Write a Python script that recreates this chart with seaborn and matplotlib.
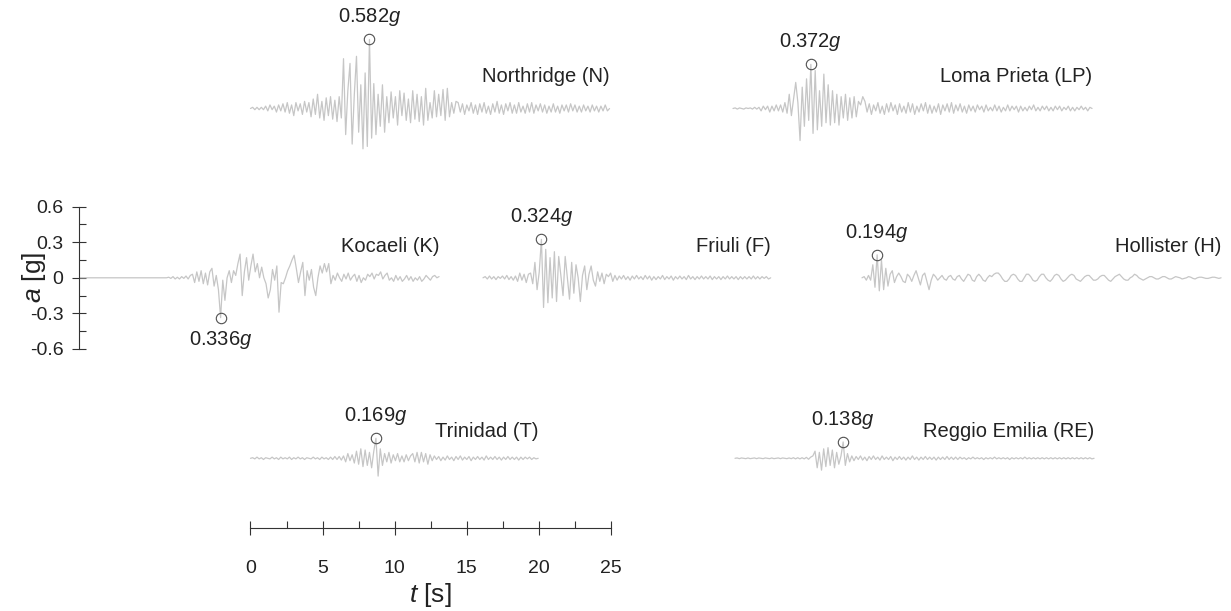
import numpy as np
import pandas as pd
import matplotlib
matplotlib.use("Agg")
import matplotlib.pyplot as plt
import seaborn as sns
from matplotlib.ticker import FixedLocator

# ---------------- data (accelerations in g, sampled every DT seconds) ----------------
DT = 0.15

northridge = [
    0.0, 0.01, -0.01, 0.01, -0.01, 0.01, -0.01, 0.02,
    -0.02, 0.03, -0.01, 0.02, -0.03, 0.03, -0.02, 0.04, -0.03,
    0.05, -0.04, 0.03, -0.06, 0.05, -0.02, 0.04, -0.05, 0.06, -0.03, 0.05, -0.07,
    0.08, -0.05, 0.12, -0.08, 0.06, -0.10, 0.09, -0.06, 0.10, -0.09, 0.07, -0.11, 0.10,
    -0.08, 0.42, -0.22, 0.15, 0.38, -0.30, 0.12, 0.44, -0.20, 0.20, -0.34, 0.30, -0.32,
    0.582, -0.25, 0.21, -0.22, 0.12, -0.15, 0.20, -0.20, 0.10,
    -0.12, 0.14, -0.08, 0.10, -0.14, 0.15, -0.06, 0.13, -0.10, 0.08, -0.12, 0.15, -0.09,
    0.12, -0.11, 0.10, -0.14,
    0.17, -0.10, 0.05, -0.08, 0.15, -0.07, 0.12, -0.06, 0.16, -0.10, 0.17, -0.07, 0.05, -0.04, 0.06,
    0.05, -0.03, 0.04, -0.05, 0.03, -0.02, 0.05, -0.04, 0.03, -0.05,
    0.04, -0.03, 0.05, -0.04, 0.02, -0.05, 0.04, -0.03, 0.06, -0.04,
    0.03, -0.05, 0.04, -0.02, 0.05, -0.04, 0.03, -0.04, 0.05, -0.03,
    0.02, -0.04, 0.04, -0.03, 0.05, -0.04, 0.03, -0.02, 0.04, -0.03,
    0.03, -0.04, 0.02, -0.03, 0.04, -0.03, 0.02, -0.04, 0.03, -0.02,
    0.03, -0.03, 0.04, -0.02, 0.03, -0.03, 0.02, -0.03, 0.03, -0.02,
    0.02, -0.03, 0.03, -0.02, 0.02, -0.03, 0.02, -0.02, 0.03, -0.02, 0.0,
]

loma_prieta = [
    0.0, 0.005, -0.005, 0.005, 0.0, -0.005, 0.005, 0.0, 0.005, -0.005, 0.01, -0.005,
    0.01, -0.02, 0.02, -0.01, 0.02, -0.03, 0.02, -0.02, 0.03, -0.02, 0.03, -0.03,
    0.05, -0.04, 0.12, -0.06, 0.08,
    0.22, 0.05, -0.27, 0.18, -0.15, 0.25, -0.10, 0.372, -0.21, 0.32, -0.18, 0.15,
    -0.15, 0.29, -0.12, 0.20, -0.14, 0.15, -0.12, 0.12, -0.14, 0.10, -0.08, 0.12,
    -0.10, 0.09, -0.08, 0.10, -0.07, 0.06, 0.03, 0.10, 0.06, -0.03,
    0.04, -0.05, 0.03, -0.02, 0.05, -0.04, 0.02, -0.05, 0.04, -0.03,
    0.05, -0.02, 0.03, -0.05, 0.04, -0.03, 0.02, -0.04, 0.05, -0.03,
    0.04, -0.05, 0.02, -0.03, 0.04, -0.02, 0.05, -0.04, 0.03, -0.04,
    0.02, -0.03, 0.04, -0.05, 0.03, -0.02, 0.04, -0.03, 0.05, -0.04,
    0.03, -0.02, 0.04, -0.03, 0.02, -0.04, 0.03, -0.02,
    0.02, -0.03, 0.03, -0.01, 0.02, -0.03, 0.03, -0.02, 0.01, -0.02,
    0.03, -0.02, 0.02, -0.03, 0.01, -0.02, 0.03, -0.02, 0.02, -0.01,
    0.02, -0.03, 0.02, -0.02, 0.01, -0.02, 0.02, -0.01, 0.03, -0.02,
    0.01, -0.02, 0.02, -0.01, 0.02, -0.02, 0.01, -0.02, 0.02, -0.01,
    0.02, -0.02, 0.01, -0.01, 0.02, -0.02, 0.01, -0.02, 0.01, -0.01,
    0.02, -0.01, 0.01, -0.02, 0.01, 0.0,
]

kocaeli = [0.0] * 41 + [
    0.005, -0.005, 0.01, -0.01, 0.005, -0.01, 0.01, -0.005, 0.015, -0.01, 0.02,
    0.03, -0.04, 0.05, -0.03, 0.06, -0.05, 0.04, -0.06, 0.05, 0.08, -0.07, 0.02,
    -0.10, -0.336, -0.02, -0.19, 0.0, 0.06, -0.04, 0.06, 0.02, 0.12, 0.20, -0.15,
    0.05, 0.17, -0.02, 0.10, 0.20, 0.05, 0.12, 0.0,
    0.09, 0.0, -0.05, -0.17, -0.10, 0.07, -0.02, 0.10, -0.29, -0.04, -0.05, 0.0,
    0.06, 0.10, 0.15, 0.19, 0.08, -0.04, 0.05, 0.13, -0.15, 0.06, -0.02, 0.07,
    -0.08, -0.15, 0.0, 0.10, 0.04, 0.12, 0.05, 0.12, -0.05,
    0.02, -0.02, 0.04, 0.0, -0.03, 0.03, -0.01, 0.04, -0.02, 0.01,
    0.03, -0.03, 0.02, -0.04, 0.0, -0.02, 0.03, 0.01, 0.04, -0.01,
    0.03, 0.02, 0.05, -0.01, 0.02, 0.04, -0.02, 0.0, -0.03, 0.02,
    -0.02, 0.01, -0.03, -0.01, 0.02, -0.02, 0.01, -0.03, 0.0, -0.02,
    0.01, -0.03, -0.01, 0.02, 0.0, -0.02, 0.01, 0.02, 0.0, 0.01,
]

friuli = [
    0.0, 0.01, -0.01, 0.015, -0.01, 0.01, -0.015, 0.01, -0.005, 0.015, -0.01, 0.02,
    -0.015, 0.01, -0.02, 0.015,
    -0.03, 0.04, -0.02, 0.03, -0.04, 0.03, 0.04,
    -0.05, 0.13, -0.10, 0.05, 0.324, -0.25, 0.24, -0.21, 0.17, -0.17, 0.22, -0.20,
    0.18, 0.02, -0.15, 0.18, 0.0, -0.18, 0.13, -0.13, 0.11, 0.0, -0.20, 0.02, 0.10,
    -0.10, 0.03, 0.10, -0.02, -0.07,
    0.05, -0.03, 0.04, -0.05, 0.03, 0.01, 0.04, -0.03, 0.02, -0.02,
    0.015, -0.01, 0.02, -0.015, 0.01, -0.02, 0.015, -0.01, 0.02, -0.01,
    0.01, -0.015, 0.02, -0.01, 0.015, -0.02, 0.01, -0.015, 0.01, -0.01,
    0.02, -0.015, 0.01, -0.01, 0.015, -0.02, 0.01, -0.01, 0.015, -0.01,
    0.01, -0.015, 0.02, -0.01, 0.01, -0.015, 0.01, -0.01, 0.015, -0.01,
    0.01, -0.01, 0.015, -0.015, 0.01, -0.01, 0.01, -0.015, 0.01, -0.01,
    0.015, -0.01, 0.01, -0.01, 0.01, -0.015, 0.01, -0.01, 0.01, -0.01,
    0.01, -0.01, 0.015, -0.01, 0.01, -0.01, 0.01, -0.005, 0.01, -0.01, 0.0,
]

hollister = [
    0.0, 0.01, -0.02, 0.02, -0.02, 0.11, -0.08, 0.194, -0.11, 0.15, -0.10, 0.08,
    -0.07, 0.03, 0.06, -0.04, 0.01, 0.04, 0.01, -0.03, -0.04, 0.03, 0.01, -0.03,
    0.02, 0.06, 0.0, -0.06, 0.02, 0.04, -0.03, -0.10, -0.02, 0.03,
    0.01, -0.02, 0.0, 0.02, -0.01, -0.02, 0.01, 0.02, -0.01, -0.02, 0.01, 0.02,
    -0.01, -0.03, 0.0, 0.03, 0.02, -0.02, -0.03, 0.01, 0.03, 0.01, -0.02, -0.03, 0.0, 0.02,
    0.01, 0.03, 0.04, 0.04, 0.02, -0.01, -0.03, -0.03, -0.01, 0.02,
    0.03, 0.02, -0.01, -0.03, -0.03, 0.0, 0.03, 0.03, 0.01, -0.02, -0.03, -0.02, 0.01,
    0.03, 0.03, 0.0, -0.02, -0.03, -0.01, 0.02, 0.03, 0.02, -0.01, -0.03, -0.02, 0.0,
    0.02, 0.03, 0.02, -0.01, -0.02, -0.03, -0.01, 0.01, 0.02, 0.02, 0.0, -0.02, -0.02,
    -0.01, 0.01, 0.02, 0.02, 0.0, -0.02, -0.03, -0.01, 0.01, 0.02, 0.03, 0.01, -0.01,
    -0.02, -0.02, 0.0, 0.01, 0.03,
    0.02, 0.0, -0.01, -0.02, -0.01, 0.0, 0.01, 0.01, 0.0, -0.01, -0.01, 0.0, 0.01,
    0.01, 0.0, -0.01, -0.01, 0.0, 0.01, 0.005, 0.0, -0.01, -0.005, 0.0, 0.01, 0.005,
    -0.005, -0.01, 0.0, 0.005, 0.005, 0.0, -0.005, -0.005, 0.0, 0.005, 0.005, 0.0,
    -0.005, 0.0,
]

trinidad = [
    0.0, 0.005, -0.005, 0.01, -0.005, 0.005, -0.01, 0.005, 0.0, -0.005,
    0.01, -0.005, 0.005, -0.01, 0.01, -0.005, 0.005, -0.005, 0.01, -0.01,
    0.005, -0.005, 0.01, -0.005, 0.005, -0.01, 0.005, 0.0, -0.005, 0.01,
    -0.005, 0.005, -0.01, 0.01, -0.005, 0.005, -0.01, 0.01, -0.01, 0.015,
    -0.01, 0.015, -0.015, 0.02,
    -0.03, 0.04, -0.02, 0.03, -0.04,
    0.06, -0.05, 0.08, -0.07, 0.07, -0.06, 0.05,
    -0.08, 0.06, 0.169, -0.15, 0.08, -0.06,
    0.04, -0.03, 0.05, -0.04, 0.03, -0.02, 0.04, -0.03, 0.02, -0.03, 0.03, -0.02, 0.02,
    0.04, -0.03, 0.05, -0.04, 0.05, -0.03, 0.04, -0.05, 0.03, -0.02,
    0.02, -0.01, 0.015, -0.02, 0.01, -0.015, 0.02, -0.01, 0.01, -0.02,
    0.015, -0.01, 0.02, -0.015, 0.01, -0.01, 0.015, -0.02, 0.01, -0.01,
    0.015, -0.01, 0.01, -0.015, 0.02, -0.01, 0.01, -0.01, 0.015, -0.01,
    0.01, -0.015, 0.01, -0.01, 0.015, -0.01, 0.01, -0.01, 0.01, -0.015,
    0.01, -0.01, 0.01, -0.005, 0.01, -0.01, 0.005, -0.005, 0.0,
]

reggio_emilia = [
    0.0, 0.003, -0.003, 0.003, 0.0, -0.003, 0.003, -0.003, 0.0, 0.003,
    -0.003, 0.003, 0.0, -0.003, 0.003, 0.0, -0.003, 0.003, -0.003, 0.0,
    0.003, -0.003, 0.003, 0.0, -0.003, 0.003, -0.003, 0.005, -0.005, 0.005,
    -0.005, 0.005, -0.005, 0.008, -0.008, 0.01,
    0.02, 0.06, -0.08, 0.05, -0.10, 0.08, -0.07, 0.09, -0.06, 0.07, -0.08, 0.05,
    -0.05, 0.02, 0.138, -0.06, 0.04, -0.03,
    0.02, -0.02, 0.015, -0.01, 0.02, -0.015, 0.01, -0.02, 0.015, -0.01,
    0.02, -0.01, 0.01, -0.015, 0.02, -0.01, 0.01, -0.01, 0.015, -0.02,
    0.01, -0.01, 0.015, -0.01, 0.01, -0.015, 0.01, -0.01, 0.02, -0.01,
    0.01, -0.015, 0.01, -0.01, 0.015, -0.01, 0.01, -0.01, 0.01, -0.015,
    0.01, -0.01, 0.01, -0.01, 0.015, -0.01, 0.01, -0.01, 0.01, -0.01, 0.01,
    -0.005, 0.005, -0.01, 0.005, -0.005, 0.01, -0.005, 0.005, -0.005, 0.005,
    -0.01, 0.005, -0.005, 0.005, -0.005, 0.01, -0.005, 0.005, -0.005, 0.005,
    -0.005, 0.005, -0.01, 0.005, -0.005, 0.005, -0.005, 0.005, -0.005, 0.01,
    -0.005, 0.005, -0.005, 0.005, -0.005, 0.005, -0.005, 0.005, -0.005, 0.005,
    -0.005, 0.005, -0.005, 0.005, -0.005, 0.005, -0.005, 0.005, -0.005, 0.005,
    -0.005, 0.005, -0.005, 0.005, -0.005, 0.005, -0.005, 0.005, -0.005, 0.005,
    -0.005, 0.0,
]

record_names = ["Northridge (N)", "Loma Prieta (LP)", "Kocaeli (K)", "Friuli (F)",
                "Hollister (H)", "Trinidad (T)", "Reggio Emilia (RE)"]
pga_labels = ["0.582", "0.372", "0.336", "0.324", "0.194", "0.169", "0.138"]
records = [northridge, loma_prieta, kocaeli, friuli, hollister, trinidad, reggio_emilia]

y_ticks = [-0.6, -0.3, 0.0, 0.3, 0.6]
y_tick_labels = ["-0.6", "-0.3", "0", "0.3", "0.6"]
y_minor = [-0.45, -0.15, 0.15, 0.45]
x_ticks = [0, 5, 10, 15, 20, 25]
x_tick_labels = ["0", "5", "10", "15", "20", "25"]
x_minor = [2.5, 7.5, 12.5, 17.5, 22.5]

# ---------------- layout (pixel geometry of the reference) ----------------
W, H = 1231, 611
PX_S = 14.42      # pixels per second
PX_G = 118.6      # pixels per g
X0_PX = 250.5     # pixel of t = 0 on the time axis
Y0_PX = 277.8     # pixel of a = 0 on the acceleration axis

def px2x(px):
    return (px - X0_PX) / PX_S

def px2y(py):
    return (Y0_PX - py) / PX_G

# (trace start x pixel, baseline y pixel, name label offset px)
placement = [(250.5, 108.5, 32), (733, 108.5, 32), (80, 277.8, 31), (483, 277.8, 31),
             (862, 277.8, 31), (250.5, 458.3, 27), (735, 458.3, 27)]

sns.set_theme(style="white")
plt.rcParams['font.family'] = ['Liberation Sans', 'DejaVu Sans']
plt.rcParams['mathtext.fontset'] = 'custom'
plt.rcParams['mathtext.rm'] = 'Liberation Sans'
plt.rcParams['mathtext.it'] = 'Liberation Sans:italic'

TEXT = '#222222'
TRACE = '#c6c6c6'

fig = plt.figure(figsize=(W / 100, H / 100), dpi=100)
ax = fig.add_axes([0, 0, 1, 1])
ax.set_xlim(px2x(0), px2x(W))
ax.set_ylim(px2y(H), px2y(0))

for vals, name, pga, (sx, by, noff) in zip(records, record_names, pga_labels, placement):
    a = np.asarray(vals, dtype=float)
    t = np.arange(len(a)) * DT
    xoff, yoff = px2x(sx), px2y(by)
    df = pd.DataFrame({'t': t + xoff, 'a': a + yoff})
    sns.lineplot(data=df, x='t', y='a', ax=ax, color=TRACE, lw=0.9,
                 estimator=None, sort=False, legend=False)
    i = int(np.argmax(np.abs(a)))
    px_, py_ = t[i] + xoff, a[i] + yoff
    ax.plot(px_, py_, 'o', mfc='none', mec='#505050', ms=7.5, mew=0.8, zorder=5)
    dy = 22 / PX_G if a[i] > 0 else -22 / PX_G
    ax.text(px_, py_ + dy, pga + r'$\mathit{g}$', ha='center', va='center',
            fontsize=14.5, color=TEXT)
    ax.text(t[-1] + xoff, yoff + noff / PX_G, name, ha='right', va='center',
            fontsize=14.5, color=TEXT)

# axes
for s in ['top', 'right']:
    ax.spines[s].set_visible(False)
ax.spines['left'].set_position(('data', px2x(79)))
ax.spines['left'].set_bounds(-0.6, 0.6)
ax.spines['bottom'].set_position(('data', px2y(528)))
ax.spines['bottom'].set_bounds(0, 25)
for s in ['left', 'bottom']:
    ax.spines[s].set_color('#333333')
    ax.spines[s].set_linewidth(0.8)

ax.set_xticks(x_ticks, labels=x_tick_labels)
ax.set_yticks(y_ticks, labels=y_tick_labels)
ax.xaxis.set_minor_locator(FixedLocator(x_minor))
ax.yaxis.set_minor_locator(FixedLocator(y_minor))
ax.tick_params(which='major', direction='inout', length=9.5, width=0.8,
               color='#333333', labelsize=14, labelcolor=TEXT, pad=6.5,
               bottom=True, left=True)
ax.tick_params(axis='x', which='major', pad=18.5)
ax.tick_params(which='minor', direction='in', length=5, width=0.8,
               color='#333333', bottom=True, left=True)
ax.set_xlabel('')
ax.set_ylabel('')
ax.grid(False)

ax.text(px2x(430), px2y(595), r'$\mathit{t}$ [s]', ha='center', va='center',
        fontsize=19, color=TEXT)
ax.text(px2x(34), px2y(277), r'$\mathit{a}$ [g]', ha='center', va='center',
        rotation=90, fontsize=19, color=TEXT)

fig.savefig('out.png', dpi=100, facecolor='white')
